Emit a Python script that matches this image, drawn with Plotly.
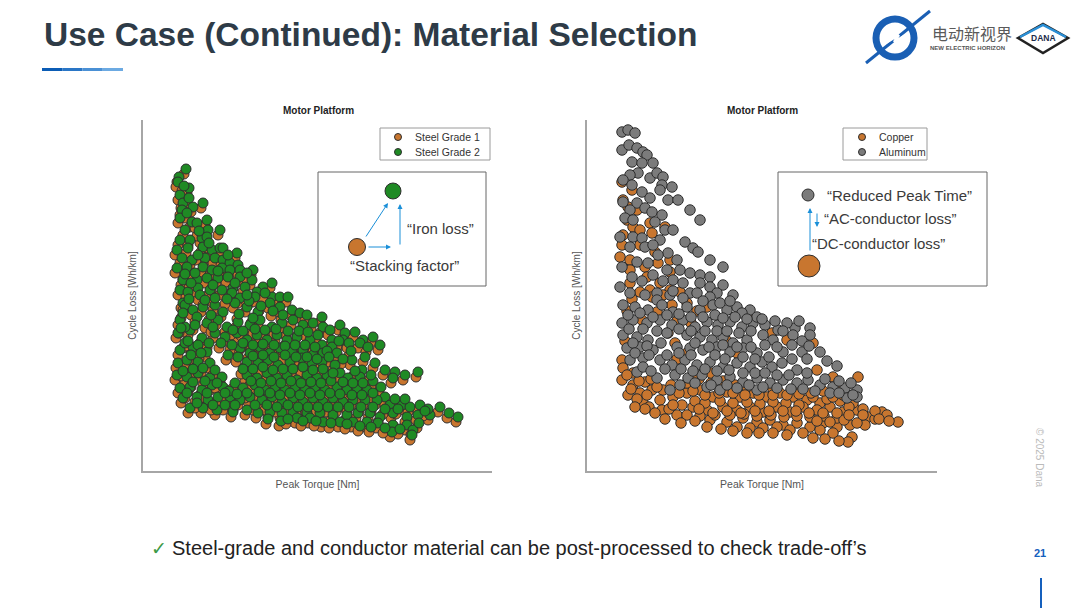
import plotly.graph_objects as go

# values (axes carry no ticks, units are arbitrary)
grade1_pts = [
    (41,297),(34,289),(33,284),(44,278),(35,271),(38,263),(48,259),(58,263),(37,256),(35,248),
    (47,244),(52,243),(62,246),(75,236),(63,236),(35,226),(45,226),(57,228),(62,229),(32,216),
    (43,218),(58,219),(67,216),(75,218),(78,218),(92,213),(37,208),(47,206),(60,208),(70,208),
    (78,206),(85,203),(93,201),(32,198),(42,199),(58,199),(67,196),(77,198),(85,196),(95,196),
    (108,196),(38,186),(52,186),(62,188),(73,188),(83,189),(95,189),(107,186),(118,179),(127,183),
    (35,176),(43,174),(53,178),(65,176),(77,176),(88,178),(100,179),(112,174),(127,169),(135,169),
    (143,169),(38,163),(55,171),(87,173),(95,168),(110,169),(120,173),
    (40,161),(48,156),(58,159),(70,161),(78,154),(90,163),(102,159),(113,154),(125,163),(135,159),
    (147,156),(155,153),(162,151),(177,149),
    (35,146),(52,149),(62,143),(73,146),(82,139),(93,144),(105,141),(115,146),(127,139),(137,143),
    (148,146),(158,141),(168,143),(178,139),(185,136),(195,141),
    (33,133),(45,136),(57,128),(70,133),(80,129),(92,133),(102,126),(112,131),(122,126),(132,131),
    (142,126),(152,129),(165,126),(177,121),(187,126),(200,133),(210,134),(218,126),(228,129),
    (35,116),(48,119),(62,114),(83,111),(95,118),(105,113),(115,119),(125,113),(135,118),(147,114),
    (158,116),(168,111),(178,113),(187,119),(198,126),(215,123),(235,121),
    (33,103),(42,106),(53,104),(65,103),(102,104),(113,103),(123,106),(133,101),(145,104),(157,108),
    (167,103),(177,104),(190,101),(207,106),(217,96),(230,103),(240,96),(250,94),(273,94),
    (32,91),(42,89),(53,93),(65,88),(77,89),(102,91),(112,88),(122,93),(132,88),(142,91),
    (152,86),(162,91),(172,88),(182,91),(195,93),(203,88),(215,89),(248,88),
    (35,78),(45,79),(57,76),(67,81),(78,79),(90,83),(98,78),(110,81),(120,76),(130,79),
    (140,76),(150,79),(160,76),(170,79),(180,76),(192,79),(202,76),(212,78),(222,76),(240,69),
    (38,68),(52,69),(63,66),(73,69),(85,69),(95,66),(105,69),(117,66),(127,69),(137,64),
    (148,68),(158,64),(168,68),(178,64),(188,68),(198,64),(208,66),(220,66),(232,66),(245,61),
    (257,61),(265,59),(275,61),(295,59),
    (45,58),(58,58),(72,56),(88,54),(102,56),(113,53),(125,54),(137,53),(148,54),(162,53),
    (175,53),(188,51),(202,51),(213,53),(225,53),(235,49),(248,53),(262,49),(273,51),(285,51),
    (313,49),(152,48),(165,48),(178,44),(195,44),(208,44),(222,44),(233,43),(248,41),(262,41),
    (268,36),(247,34),(267,31),
    (48,84),(60,85),(72,83),(84,75),(106,85),(116,83),(126,85),(136,83),(146,85),(156,83),
    (166,84),(176,83),(186,85),(198,84),(208,83),(218,83),(228,85),(236,79),
    (42,73),(62,73),(80,73),(92,72),(102,73),(114,74),(125,73),(135,71),(145,73),(155,71),
    (165,73),(175,71),(185,73),(195,72),(207,71),(217,71),(228,73),(250,67),(260,67),(283,57),
    (52,63),(68,61),(80,61),(90,61),(110,61),(122,61),(132,59),(143,61),(153,59),(163,59),
    (173,59),(183,59),(193,59),(204,59),(216,59),(228,59),(240,57),(253,57),(280,55),(304,53),
    (123,47),(136,45),(143,47),(158,45),(171,45),(186,43),(202,42),(215,40),(226,39),(240,38),
    (255,37),(274,43),
    (40,139),(50,141),(68,139),(88,136),(98,135),(110,137),(120,136),(131,137),(143,135),(154,135),
    (163,134),(173,131),(194,125),(204,123),(223,119),
    (40,123),(53,121),(64,123),(76,123),(87,121),(98,123),(108,121),(118,122),(129,121),(140,120),
    (150,121),(160,121),(170,119),(182,115),(192,113),(206,115),
    (46,111),(56,113),(93,109),(108,110),(118,111),(129,109),(140,111),(151,109),(162,109),(172,107),
    (184,109),(198,107),(220,109),
    (38,95),(48,97),(58,98),(70,96),(98,97),(108,97),(118,99),(128,96),(138,97),(148,97),
    (158,99),(168,96),(178,97),(188,93),(210,95),(226,91),(260,91),
    (43,125),(36,138),(38,153),(44,167),(60,166),(70,168),(82,167),(104,165),(116,160),(128,155),
    (138,151),(108,148),(94,152),(66,151),(46,183),(68,181),(90,183),(102,171),(40,192),(50,193),
    (73,195),(102,193),(53,211),(83,211),(64,223),(40,236),(54,235),(42,253),(44,268),(39,280),
]

grade2_pts = [
    (43,302),(36,294),(35,289),(46,283),(37,276),(40,268),(50,264),(60,268),(39,261),(37,253),
    (49,249),(54,248),(64,251),(77,241),(65,241),(37,231),(47,231),(59,233),(64,234),(34,221),
    (45,223),(60,224),(69,221),(77,223),(80,223),(94,218),(39,213),(49,211),(62,213),(72,213),
    (80,211),(87,208),(95,206),(34,203),(44,204),(60,204),(69,201),(79,203),(87,201),(97,201),
    (110,201),(40,191),(54,191),(64,193),(75,193),(85,194),(97,194),(109,191),(120,184),(129,188),
    (37,181),(45,179),(55,183),(67,181),(79,181),(90,183),(102,184),(114,179),(129,174),(137,174),
    (145,174),(40,168),(57,176),(89,178),(97,173),(112,174),(122,178),
    (42,166),(50,161),(60,164),(72,166),(80,159),(92,168),(104,164),(115,159),(127,168),(137,164),
    (149,161),(157,158),(164,156),(179,154),
    (37,151),(54,154),(64,148),(75,151),(84,144),(95,149),(107,146),(117,151),(129,144),(139,148),
    (150,151),(160,146),(170,148),(180,144),(187,141),(197,146),
    (35,138),(47,141),(59,133),(72,138),(82,134),(94,138),(104,131),(114,136),(124,131),(134,136),
    (144,131),(154,134),(167,131),(179,126),(189,131),(202,138),(212,139),(220,131),(230,134),
    (37,121),(50,124),(64,119),(85,116),(97,123),(107,118),(117,124),(127,118),(137,123),(149,119),
    (160,121),(170,116),(180,118),(189,124),(200,131),(217,128),(237,126),
    (35,108),(44,111),(55,109),(67,108),(104,109),(115,108),(125,111),(135,106),(147,109),(159,113),
    (169,108),(179,109),(192,106),(209,111),(219,101),(232,108),(242,101),(252,99),(275,99),
    (34,96),(44,94),(55,98),(67,93),(79,94),(104,96),(114,93),(124,98),(134,93),(144,96),
    (154,91),(164,96),(174,93),(184,96),(197,98),(205,93),(217,94),(250,93),
    (37,83),(47,84),(59,81),(69,86),(80,84),(92,88),(100,83),(112,86),(122,81),(132,84),
    (142,81),(152,84),(162,81),(172,84),(182,81),(194,84),(204,81),(214,83),(224,81),(242,74),
    (40,73),(54,74),(65,71),(75,74),(87,74),(97,71),(107,74),(119,71),(129,74),(139,69),
    (150,73),(160,69),(170,73),(180,69),(190,73),(200,69),(210,71),(222,71),(234,71),(247,66),
    (259,66),(267,64),(277,66),(297,64),
    (47,63),(60,63),(74,61),(90,59),(104,61),(115,58),(127,59),(139,58),(150,59),(164,58),
    (177,58),(190,56),(204,56),(215,58),(227,58),(237,54),(250,58),(264,54),(275,56),(287,56),
    (315,54),(154,53),(167,53),(180,49),(197,49),(210,49),(224,49),(235,48),(250,46),(264,46),
    (270,41),(249,39),(269,36),
    (50,89),(62,90),(74,88),(86,80),(108,90),(118,88),(128,90),(138,88),(148,90),(158,88),
    (168,89),(178,88),(188,90),(200,89),(210,88),(220,88),(230,90),(238,84),
    (44,78),(64,78),(82,78),(94,77),(104,78),(116,79),(127,78),(137,76),(147,78),(157,76),
    (167,78),(177,76),(187,78),(197,77),(209,76),(219,76),(230,78),(252,72),(262,72),(285,62),
    (54,68),(70,66),(82,66),(92,66),(112,66),(124,66),(134,64),(145,66),(155,64),(165,64),
    (175,64),(185,64),(195,64),(206,64),(218,64),(230,64),(242,62),(255,62),(282,60),(306,58),
    (125,52),(138,50),(145,52),(160,50),(173,50),(188,48),(204,47),(217,45),(228,44),(242,43),
    (257,42),(276,48),
    (42,144),(52,146),(70,144),(90,141),(100,140),(112,142),(122,141),(133,142),(145,140),(156,140),
    (165,139),(175,136),(196,130),(206,128),(225,124),
    (42,128),(55,126),(66,128),(78,128),(89,126),(100,128),(110,126),(120,127),(131,126),(142,125),
    (152,126),(162,126),(172,124),(184,120),(194,118),(208,120),
    (48,116),(58,118),(95,114),(110,115),(120,116),(131,114),(142,116),(153,114),(164,114),(174,112),
    (186,114),(200,112),(222,114),
    (40,100),(50,102),(60,103),(72,101),(100,102),(110,102),(120,104),(130,101),(140,102),(150,102),
    (160,104),(170,101),(180,102),(190,98),(212,100),(228,96),(262,96),
    (45,130),(38,143),(40,158),(46,172),(62,171),(72,173),(84,172),(106,170),(118,165),(130,160),
    (140,156),(110,153),(96,157),(68,156),(48,188),(70,186),(92,188),(104,176),(42,197),(52,198),
    (75,200),(104,198),(55,216),(85,216),(66,228),(42,241),(56,240),(44,258),(46,273),(41,285),
]

copper_pts = [
    (35,289),(45,281),(36,271),(41,264),(50,261),(40,251),(63,248),(46,244),(78,244),(53,241),
    (36,236),(65,238),(35,226),(53,226),(68,219),(33,214),(43,211),(83,211),(58,204),(71,208),
    (83,199),(43,201),(60,194),(73,188),(43,188),(53,179),(83,181),(63,181),
    (65,174),(93,179),(85,166),(55,151),(160,158),(81,138),(88,128),(100,118),(150,118),(166,151),
    (185,138),(200,131),(226,128),
    (35,111),(36,103),(46,98),(35,91),(46,86),(58,89),(41,76),(53,78),(65,81),(76,81),
    (56,68),(73,71),(86,74),(100,78),(113,81),(126,74),(140,79),(153,74),(166,78),(180,74),
    (193,78),(206,74),(220,71),(233,68),(230,101),(246,94),(271,94),
    (75,61),(90,56),(106,64),(120,61),(136,64),(150,61),(163,64),(176,59),(190,64),(203,59),
    (216,64),(230,61),(243,64),(256,59),(270,61),(281,54),(295,59),(311,49),
    (123,51),(140,49),(156,53),(170,49),(183,51),(196,46),(210,48),(223,44),(236,48),(250,44),
    (263,46),(278,46),(246,38),(265,34),(261,29),(233,41),(203,41),(216,38),
    (40,96),(44,82),(50,72),(62,64),(68,58),(82,62),(95,66),(108,70),(118,68),(133,70),
    (146,68),(160,69),(173,67),(186,69),(199,68),(212,66),(226,74),(240,72),(253,70),(266,68),
    (100,56),(113,55),(128,56),(143,56),(157,57),(170,55),(184,56),(197,54),(210,55),(223,54),
    (237,55),(250,53),(288,52),(150,44),(163,43),(176,43),(190,44),(230,50),(243,49),(257,51),
    (270,48),(52,90),(64,92),(100,88),(112,92),(124,88),(136,90),(148,86),(160,84),(186,82),
    (210,82),(236,80),(250,86),
    (38,130),(40,160),(45,172),(76,176),(70,159),(100,168),(90,150),(110,160),(120,164),(104,148),
    (140,130),(90,112),(108,96),(124,98),(60,76),(70,84),(84,86),(92,78),(106,80),(118,76),
    (132,78),(146,78),(158,76),(172,76),(186,76),(200,76),(212,77),(224,78),(246,74),(256,76),
    (262,64),(276,62),(288,60),(300,56),(58,62),(48,64),(86,66),(78,52),(94,48),(108,50),
    (120,44),(134,42),(146,40),(160,38),(172,38),(186,38),(200,36),(226,33),(238,32),(252,30),
    (112,62),(126,58),(140,60),(154,58),(168,60),(182,60),(196,60),(209,60),(222,58),(236,58),
    (250,58),(262,56),(276,56),(292,52),(302,50),
]

aluminum_pts = [
    (35,339),(41,341),(48,338),(35,321),(42,326),(50,323),(56,319),(60,316),(45,309),(55,308),
    (66,308),(51,298),(43,296),(63,293),(70,298),(76,294),(36,291),(45,286),(75,286),(85,284),
    (55,279),(73,281),(63,273),(81,271),(91,271),(36,269),(50,268),(43,261),(58,263),(65,259),
    (75,256),(103,261),(113,251),(38,253),(46,251),(68,249),(78,241),(86,241),(33,234),(46,234),
    (55,233),(73,231),(98,229),(43,224),(58,224),(66,226),(106,223),(111,219),(81,218),(71,216),
    (90,211),(123,211),(136,204),(50,209),(35,204),(61,208),(80,201),(93,201),(103,198),(113,196),
    (123,194),(136,186),(86,191),(96,188),(113,188),(123,184),(33,184),(43,178),(70,178),(103,178),
    (130,178),(146,176),(58,176),(70,171),(83,176),(96,173),(110,178),(123,174),
    (36,166),(48,164),(61,161),(75,166),(86,159),(100,164),(113,161),(126,166),(140,161),(150,164),
    (163,161),(35,148),(46,151),(60,148),(73,151),(85,146),(96,151),(108,144),(120,149),(131,146),
    (143,149),(155,144),(166,148),(178,146),(191,141),(208,143),(223,143),
    (36,136),(50,134),(61,131),(100,136),(113,134),(125,131),(136,134),(146,128),(160,131),(176,136),
    (186,131),(206,136),(223,136),(40,123),(53,124),(66,121),(103,123),(116,121),(130,124),(143,119),
    (156,123),(170,118),(196,119),(215,119),(233,119),
    (43,111),(56,113),(73,111),(85,106),(98,111),(110,106),(123,109),(136,104),(150,108),(163,104),
    (175,109),(185,104),(195,108),(210,101),(50,99),(70,93),(88,96),(101,93),(115,96),(130,91),
    (143,94),(156,89),(170,93),(183,88),(196,91),(210,88),(221,91),(233,86),(246,84),(258,83),
    (270,81),(270,74),(260,73),(243,78),(133,81),(120,84),(150,83),(170,81),(93,86),(83,81),
    (45,194),(55,190),(66,196),(76,190),(86,180),(116,170),(133,168),(143,170),(155,158),(170,154),
    (41,156),(53,158),(66,154),(80,156),(92,157),(104,154),(116,154),(128,156),(136,153),(148,154),
    (160,152),(175,152),(188,150),(200,148),(212,150),
    (42,142),(56,142),(70,140),(80,138),(92,142),(104,140),(118,140),(130,140),(140,140),(152,138),
    (164,140),(196,140),(215,130),
    (46,128),(60,125),(74,128),(90,124),(108,128),(122,124),(136,126),(150,124),(164,124),(178,126),
    (190,124),(205,126),(222,125),
    (48,118),(62,116),(80,116),(92,118),(104,116),(128,116),(138,112),(156,114),(168,112),(182,114),
    (205,112),(220,112),(240,110),(250,105),
    (56,104),(64,100),(78,102),(94,102),(106,100),(118,102),(130,100),(142,101),(156,98),(168,98),
    (178,98),(190,96),(202,96),(220,98),(238,92),(252,90),(264,88),
    (108,88),(124,86),(140,86),(162,86),(176,84),(190,83),(204,82),(216,82),(228,80),(252,78),
    (266,76),
]

left_legend = ["Steel Grade 1", "Steel Grade 2"]
right_legend = ["Copper", "Aluminum"]

ORANGE = "#C8762F"
GREEN = "#1F8A24"
GRAY = "#7B7B7B"
EDGE = "#2E2E2E"
BLUE_ARROW = "#1A8FD8"
FONT = "Liberation Sans, Arial, sans-serif"

W, H = 1080, 608
def px(x):
    return x / W
def py(y):
    return 1 - y / H

fig = go.Figure()

series = [
    (left_legend[0], grade1_pts, ORANGE, "x", "y", 10),
    (left_legend[1], grade2_pts, GREEN, "x", "y", 10),
    (right_legend[0], copper_pts, ORANGE, "x2", "y2", 10.5),
    (right_legend[1], aluminum_pts, GRAY, "x2", "y2", 10.5),
]
for name, pts, color, xa, ya, size in series:
    fig.add_trace(go.Scatter(
        x=[p[0] for p in pts], y=[p[1] for p in pts],
        mode="markers", name=name, xaxis=xa, yaxis=ya, showlegend=False,
        marker=dict(size=size, color=color, line=dict(color=EDGE, width=1)),
        hoverinfo="skip",
    ))

axis_common = dict(showline=True, linecolor="#A6A6A6", linewidth=1.5, showgrid=False,
                   zeroline=False, showticklabels=False, ticks="", automargin=False)
xtitle = dict(text="Peak Torque [Nm]", font=dict(size=10.5, color="#555555"), standoff=9)
ytitle = dict(text="Cycle Loss [Wh/km]", font=dict(size=10, color="#555555"), standoff=3)

fig.update_layout(
    width=W, height=H, margin=dict(l=0, r=0, t=0, b=0),
    paper_bgcolor="white", plot_bgcolor="white",
    font=dict(family=FONT, color="#333333"),
    xaxis=dict(domain=[px(143), px(492)], range=[0, 349], anchor="y", title=xtitle, **axis_common),
    yaxis=dict(domain=[py(471), py(120)], range=[0, 351], anchor="x", title=ytitle, **axis_common),
    xaxis2=dict(domain=[px(587), px(937)], range=[0, 350], anchor="y2", title=xtitle, **axis_common),
    yaxis2=dict(domain=[py(471), py(120)], range=[0, 351], anchor="x2", title=ytitle, **axis_common),
)

shapes = []
annos = []

def text(x, y, s, size, color="#333333", anchor="left", bold=False, family=FONT, angle=0):
    annos.append(dict(x=px(x), y=py(y), xref="paper", yref="paper", text=f"<b>{s}</b>" if bold else s,
                      showarrow=False, xanchor=anchor, yanchor="middle", textangle=angle,
                      font=dict(size=size, color=color, family=family)))

def circle(cx, cy, d, color, edge=EDGE, lw=1):
    r = d / 2
    shapes.append(dict(type="circle", xref="paper", yref="paper",
                       x0=px(cx - r), x1=px(cx + r), y0=py(cy + r), y1=py(cy - r),
                       fillcolor=color, line=dict(color=edge, width=lw)))

def box(x0, y0, x1, y1, color="#666666"):
    shapes.append(dict(type="rect", xref="paper", yref="paper", x0=px(x0), x1=px(x1),
                       y0=py(y1), y1=py(y0), fillcolor="white", line=dict(color=color, width=1)))

def arrow(x0, y0, x1, y1):
    annos.append(dict(x=px(x1), y=py(y1), xref="paper", yref="paper", ax=x0 - x1, ay=y0 - y1,
                      text="", showarrow=True, arrowhead=2, arrowsize=1, arrowwidth=1,
                      arrowcolor=BLUE_ARROW))

# title and underline
text(42, 35, "Use Case (Continued): Material Selection", 33.5, color="#2E3B47", bold=True)
for i, c in enumerate(["#0B5CB5", "#2A76C6", "#4A90D5", "#6CAAE2"]):
    shapes.append(dict(type="rect", xref="paper", yref="paper", x0=px(42 + i * 20.25),
                       x1=px(42 + (i + 1) * 20.25), y0=py(71), y1=py(68),
                       fillcolor=c, line=dict(width=0)))

# subplot titles
text(318, 111, "Motor Platform", 10, color="#222222", anchor="center", bold=True)
text(762, 111, "Motor Platform", 10, color="#222222", anchor="center", bold=True)

# legends
box(380, 128, 490, 160, "#9A9A9A")
circle(398, 137, 7, ORANGE)
circle(398, 152, 7, GREEN)
text(413, 137, left_legend[0], 10.5)
text(413, 152, left_legend[1], 10.5)
box(843, 128, 927, 160, "#9A9A9A")
circle(862, 137, 7, ORANGE)
circle(862, 152, 7, GRAY)
text(877, 137, right_legend[0], 10.5)
text(877, 152, right_legend[1], 10.5)

# inset, left
box(318, 172, 486, 286)
circle(393, 191, 16, GREEN)
circle(357, 247, 17, ORANGE)
arrow(365, 238, 388, 203)
arrow(367, 247, 391, 247)
arrow(400, 246, 400, 204)
text(405, 228, "“Iron loss”", 15, color="#3A3A3A")
text(404, 265, "“Stacking factor”", 15, color="#3A3A3A", anchor="center")

# inset, right
box(778, 172, 987, 286)
circle(808, 195, 12, GRAY)
circle(809, 266, 22, ORANGE)
arrow(810, 252, 810, 208)
arrow(817, 212, 817, 227)
text(825, 195, "“Reduced Peak Time”", 15, color="#3A3A3A")
text(822, 218, "“AC-conductor loss”", 15, color="#3A3A3A")
text(810, 243, "“DC-conductor loss”", 15, color="#3A3A3A")

# footer
text(149, 548, "✓", 19, color="#3C9A46", family="DejaVu Sans")
text(170, 548, "Steel-grade and conductor material can be post-processed to check trade-off’s", 20,
     color="#222222")
text(1040, 553, "21", 11, color="#1560BD", anchor="center", bold=True)
text(1040, 458, "© 2025 Dana", 10, color="#BBBBBB", anchor="center", angle=90)
shapes.append(dict(type="line", xref="paper", yref="paper", x0=px(1041), x1=px(1041),
                   y0=py(578), y1=py(608), line=dict(color="#1560BD", width=2)))

# logo
shapes.append(dict(type="circle", xref="paper", yref="paper", x0=px(876), x1=px(914),
                   y0=py(57), y1=py(19), line=dict(color="#1A5FB4", width=7)))
shapes.append(dict(type="path", xref="paper", yref="paper",
                   path=f"M {px(866)} {py(63)} L {px(930)} {py(11)}",
                   line=dict(color="#1A5FB4", width=3)))
shapes.append(dict(type="path", xref="paper", yref="paper",
                   path=f"M {px(884)} {py(44)} L {px(899)} {py(35)} L {px(894)} {py(42)} L {px(909)} {py(33)}",
                   line=dict(color="white", width=2.5)))
text(930, 33, "电动新视界", 16, color="#5A5A5A", family="Noto Sans CJK SC")
text(928, 48, "<b>NEW ELECTRIC HORIZON</b>", 6, color="#555555")
shapes.append(dict(type="path", xref="paper", yref="paper",
                   path=f"M {px(1018)} {py(38)} L {px(1043)} {py(24)} L {px(1068)} {py(38)} L {px(1043)} {py(53)} Z",
                   fillcolor="white", line=dict(color="#222222", width=2.5)))
shapes.append(dict(type="path", xref="paper", yref="paper",
                   path=f"M {px(1020)} {py(37)} L {px(1043)} {py(25)} L {px(1066)} {py(37)}",
                   line=dict(color="#2A8FD6", width=2.5)))
text(1043, 38, "DANA", 8.5, color="#1C2B4A", anchor="center", bold=True)

fig.update_layout(shapes=shapes, annotations=annos)
fig.write_html("out.html", config={"displayModeBar": False},
               post_script="document.body.style.margin='0px';")
